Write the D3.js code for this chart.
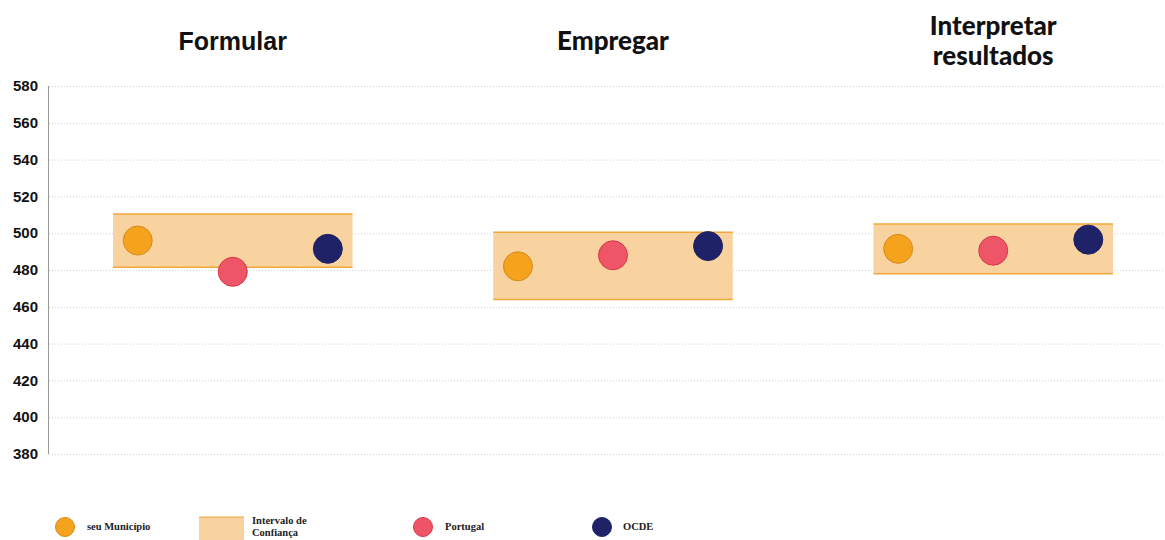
<!DOCTYPE html>
<meta charset="utf-8">
<script src="https://d3js.org/d3.v7.min.js"></script>
<style>
  body { margin: 0; background: #fff; }
  .grid line { stroke: #cfcfcf; stroke-width: 1; stroke-dasharray: 1,2; }
  .ytick { font-family: "Liberation Sans", Arial, sans-serif; font-weight: bold; font-size: 15px; fill: #111; }
  .title { font-family: Lato, sans-serif; font-weight: 900; font-size: 26px; fill: #111; }
  .leg { font-family: "Liberation Serif", serif; font-weight: bold; font-size: 10.5px; fill: #222; }
</style>
<body></body>
<script>

// categories & values
var categories = ["Formular", "Empregar", "Interpretar resultados"];
var titleLines = [["Formular"], ["Empregar"], ["Interpretar", "resultados"]];
var series = ["seu Município", "Portugal", "OCDE"];
var municipio = [496, 482, 491.5];
var portugal  = [479, 488, 490.5];
var ocde      = [491.5, 493, 496.5];
var ciLow  = [481.5, 464, 478];
var ciHigh = [510.5, 500.5, 505];
var yTicks = [380, 400, 420, 440, 460, 480, 500, 520, 540, 560, 580];

var colors = {
  "seu Município": {fill: "#f5a31c", stroke: "#d48a1e"},
  "Portugal": {fill: "#ee5566", stroke: "#d93649"},
  "OCDE": {fill: "#1f2266", stroke: "#1f2266"}
};

var width = 1165, height = 540;

var svg = d3.select("body").append("svg")
    .attr("width", width)
    .attr("height", height);

var y = d3.scaleLinear().domain([380, 580]).range([454, 86]);
var x = d3.scaleBand().domain(categories).range([113, 1113]).paddingInner(0.37).paddingOuter(0);
var xi = d3.scalePoint().domain(series).range([0, x.bandwidth()]).padding(0.26);

// grid lines
svg.append("g").attr("class", "grid")
  .selectAll("line").data(yTicks).enter().append("line")
    .attr("x1", 49).attr("x2", width)
    .attr("y1", function(d) { return y(d) + 0.5; })
    .attr("y2", function(d) { return y(d) + 0.5; });

// y axis line
svg.append("line")
    .attr("x1", 48.5).attr("x2", 48.5)
    .attr("y1", y(580)).attr("y2", y(380))
    .attr("stroke", "#999").attr("stroke-width", 1);

svg.selectAll(".ytick").data(yTicks).enter().append("text")
    .attr("class", "ytick")
    .attr("x", 38)
    .attr("y", function(d) { return y(d); })
    .attr("dy", "0.35em")
    .attr("text-anchor", "end")
    .text(function(d) { return d; });

// confidence bands
var bands = svg.append("g").selectAll("g").data(categories).enter().append("g");
bands.append("rect")
    .attr("x", function(d) { return x(d); })
    .attr("width", x.bandwidth())
    .attr("y", function(d, i) { return y(ciHigh[i]); })
    .attr("height", function(d, i) { return y(ciLow[i]) - y(ciHigh[i]); })
    .attr("fill", "#f8d39f");
bands.append("line")
    .attr("x1", function(d) { return x(d); })
    .attr("x2", function(d) { return x(d) + x.bandwidth(); })
    .attr("y1", function(d, i) { return y(ciHigh[i]); })
    .attr("y2", function(d, i) { return y(ciHigh[i]); })
    .attr("stroke", "#f0a83a").attr("stroke-width", 1.5);
bands.append("line")
    .attr("x1", function(d) { return x(d); })
    .attr("x2", function(d) { return x(d) + x.bandwidth(); })
    .attr("y1", function(d, i) { return y(ciLow[i]); })
    .attr("y2", function(d, i) { return y(ciLow[i]); })
    .attr("stroke", "#f0a83a").attr("stroke-width", 1.5);

// points
var values = {"seu Município": municipio, "Portugal": portugal, "OCDE": ocde};
var pts = [];
categories.forEach(function(c, i) {
  series.forEach(function(s) { pts.push({cat: c, s: s, v: values[s][i]}); });
});
svg.append("g").selectAll("circle").data(pts).enter().append("circle")
    .attr("cx", function(d) { return x(d.cat) + xi(d.s); })
    .attr("cy", function(d) { return y(d.v); })
    .attr("r", 14.5)
    .attr("fill", function(d) { return colors[d.s].fill; })
    .attr("stroke", function(d) { return colors[d.s].stroke; })
    .attr("stroke-width", 1);

// titles
var titles = svg.append("g").selectAll("text").data(categories).enter().append("text")
    .attr("class", "title")
    .attr("text-anchor", "middle")
    .attr("x", function(d) { return x(d) + x.bandwidth() / 2; })
    .attr("y", function(d, i) { return titleLines[i].length > 1 ? 35 : 50; })
    .style("font-family", function(d, i) { return i === 0 ? "'Liberation Sans', Arial, sans-serif" : null; })
    .style("font-size", function(d, i) { return i === 0 ? "25px" : null; });
titles.selectAll("tspan").data(function(d, i) { return titleLines[i]; }).enter().append("tspan")
    .attr("x", function() { return d3.select(this.parentNode).attr("x"); })
    .attr("dy", function(d, i) { return i ? 30 : 0; })
    .text(function(d) { return d; });

// legend
var legend = svg.append("g");
var lg = [
  {type: "circle", key: "seu Município", x: 65, tx: 87, lines: ["seu Município"]},
  {type: "band", key: "ci", x: 199, tx: 252, lines: ["Intervalo de", "Confiança"]},
  {type: "circle", key: "Portugal", x: 423, tx: 445, lines: ["Portugal"]},
  {type: "circle", key: "OCDE", x: 602, tx: 623, lines: ["OCDE"]}
];
lg.forEach(function(d) {
  if (d.type === "circle") {
    legend.append("circle").attr("cx", d.x).attr("cy", 527).attr("r", 9.5)
      .attr("fill", colors[d.key].fill).attr("stroke", colors[d.key].stroke);
  } else {
    legend.append("rect").attr("x", d.x).attr("y", 517).attr("width", 45).attr("height", 23)
      .attr("fill", "#f8d39f");
    legend.append("line").attr("x1", d.x).attr("x2", d.x + 45).attr("y1", 517).attr("y2", 517)
      .attr("stroke", "#f0a83a").attr("stroke-width", 1);
  }
  var t = legend.append("text").attr("class", "leg").attr("x", d.tx)
    .attr("y", d.lines.length > 1 ? 524 : 530);
  d.lines.forEach(function(l, i) {
    t.append("tspan").attr("x", d.tx).attr("dy", i ? 12 : 0).text(l);
  });
});

</script>
</html>
